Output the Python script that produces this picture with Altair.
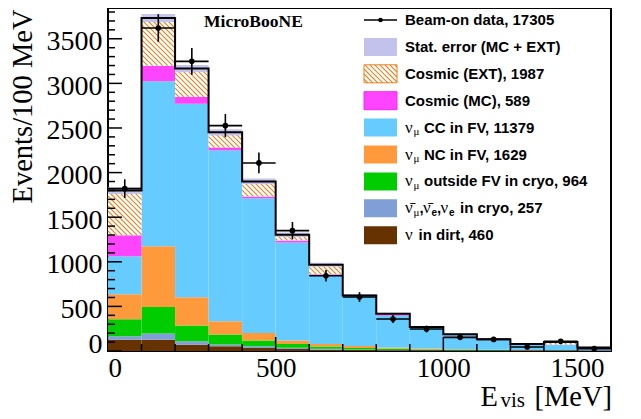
import altair as alt
import pandas as pd
import numpy as np

# ---------------- data ----------------
bin_lo = [0, 100, 200, 300, 400, 500, 600, 700, 800, 900, 1000, 1100, 1200, 1300, 1400]
bin_hi = [100, 200, 300, 400, 500, 600, 700, 800, 900, 1000, 1100, 1200, 1300, 1400, 1500]

nu_dirt  = [125, 125, 71, 52, 34, 22, 15, 10, 7, 5, 4, 3, 2, 2, 1]
nu_other = [40, 70, 38, 20, 18, 15, 10, 7, 5, 4, 3, 2, 2, 1, 1]
numu_out = [190, 298, 176, 112, 67, 41, 25, 18, 13, 9, 6, 5, 3, 3, 2]
numu_nc  = [280, 680, 317, 149, 83, 41, 28, 20, 13, 9, 6, 4, 3, 2, 2]
numu_cc  = [426, 1850, 2171, 1917, 1509, 1098, 770, 550, 358, 231, 160, 111, 60, 63, 19]
cosmic_mc  = [236, 175, 76, 30, 22, 23, 13, 7, 9, 4, 3, 2, 2, 2, 1]
cosmic_ext = [501, 535, 317, 172, 168, 64, 106, 11, 13, 7, 6, 5, 6, 27, 12]
stat_err = [38, 45, 40, 35, 32, 25, 22, 16, 12, 10, 9, 8, 6, 8, 5]

beam_on = [1820, 3621, 3247, 2526, 2108, 1349, 844, 605, 359, 247, 153, 130, 45, 108, 26]
beam_on_err = [105, 155, 150, 130, 116, 97, 65, 55, 45, 38, 30, 28, 18, 25, 15]

comp_names = ["dirt", "other", "outfv", "nc", "cc", "mc", "ext"]
comp_colors = ["#663300", "#7f9fd6", "#00cc00", "#ff9a3c", "#66ccff", "#ff44ff", "#ffffff"]

legend_labels = ["Beam-on data, 17305", "Stat. error (MC + EXT)", "Cosmic (EXT), 1987",
                 "Cosmic (MC), 589", "CC in FV, 11379", "NC in FV, 1629",
                 "outside FV in cryo, 964", "in cryo, 257", "in dirt, 460"]

y_major = [0, 500, 1000, 1500, 2000, 2500, 3000, 3500]
x_major = [0, 500, 1000, 1500]

# ---------------- layout constants ----------------
W, H = 503, 343
YMAX = 3845.0
SX = W / 1500.0
SY = H / YMAX
SERIF = "Liberation Serif"
SANS = "Liberation Sans"

xs = alt.Scale(domain=[0, 1500], nice=False, zero=False)
ys = alt.Scale(domain=[0, YMAX], nice=False, zero=True)

AX_X = alt.Axis(values=x_major, title=None, grid=False, ticks=False, tickSize=0, domain=False,
                format="d",
                labelFont=SERIF, labelFontSize=27, labelColor="black", labelPadding=4,
                labelBaseline="top",
                labelOffset={"condition": {"test": "datum.value === 1500", "value": -7}, "value": 0})
AX_Y = alt.Axis(values=y_major, title="Events/100 MeV", grid=False, ticks=False, tickSize=0,
                domain=False, format="d", labelFont=SERIF, labelFontSize=28, labelColor="black",
                labelPadding=6,
                labelOffset={"condition": {"test": "datum.value === 0", "value": -7}, "value": 3},
                titleFont=SERIF, titleFontSize=28.5, titleFontWeight="normal", titleColor="black",
                titleAngle=270, titleAlign="right", titleBaseline="middle", titleX=-86, titleY=1)

def X(f):
    return alt.X(f, scale=xs, axis=AX_X)

def Y(f):
    return alt.Y(f, scale=ys, axis=AX_Y)

# ---------------- stacked histogram ----------------
comps = [nu_dirt, nu_other, numu_out, numu_nc, numu_cc, cosmic_mc, cosmic_ext]
rows = []
base = np.zeros(len(bin_lo))
for ci, (nm, vals) in enumerate(zip(comp_names, comps)):
    v = np.array(vals, dtype=float)
    for i in range(len(bin_lo)):
        rows.append(dict(lo=bin_lo[i], hi=bin_hi[i], y0=base[i], y1=base[i] + v[i], comp=nm))
    base = base + v
stack_df = pd.DataFrame(rows)
totals = base.copy()

bars = alt.Chart(stack_df).mark_rect(strokeWidth=0).encode(
    x=X("lo:Q"), x2="hi:Q", y=Y("y0:Q"), y2="y1:Q",
    color=alt.Color("comp:N", scale=alt.Scale(domain=comp_names, range=comp_colors), legend=None),
)

# ---------------- hatch for cosmic EXT ----------------
D = 5.0
def hatch_data(rects):
    segs = []
    for x0, x1, v0, v1 in rects:
        a, b = x0 * SX, x1 * SX
        c0, c1 = v0 * SY, v1 * SY
        kmin = int(np.ceil((a + c0) / D))
        kmax = int(np.floor((b + c1) / D))
        for k in range(kmin, kmax + 1):
            c = k * D
            ps = max(a, c - c1)
            pe = min(b, c - c0)
            if pe - ps > 0.3:
                segs.append(dict(x=ps / SX, x2=pe / SX, y=(c - ps) / SY, y2=(c - pe) / SY))
    return pd.DataFrame(segs)

ext_rows = stack_df[stack_df.comp == "ext"]
hatch_df = hatch_data([(r.lo, r.hi, r.y0, r.y1) for r in ext_rows.itertuples()])
hatch = alt.Chart(hatch_df).mark_rule(color="#e8801e", strokeWidth=1.1).encode(
    x=X("x:Q"), x2="x2:Q", y=Y("y:Q"), y2="y2:Q")

# ---------------- stat error band ----------------
err_df = pd.DataFrame(dict(lo=bin_lo, hi=bin_hi,
                           lo_y=totals - np.array(stat_err), hi_y=totals + np.array(stat_err)))
band = alt.Chart(err_df).mark_rect(color="#c2c2ec", opacity=0.95).encode(
    x=X("lo:Q"), x2="hi:Q", y=Y("lo_y:Q"), y2="hi_y:Q")

# ---------------- total outline ----------------
out_df = pd.DataFrame(dict(x=bin_lo + [bin_hi[-1]], y=list(totals) + [totals[-1]]))
outline = alt.Chart(out_df).mark_line(color="black", strokeWidth=2, interpolate="step-after").encode(
    x=X("x:Q"), y=Y("y:Q"))

# ---------------- data points ----------------
dat_df = pd.DataFrame(dict(lo=bin_lo, hi=bin_hi,
                           c=[(a + b) / 2 for a, b in zip(bin_lo, bin_hi)],
                           v=beam_on,
                           vlo=[v - e for v, e in zip(beam_on, beam_on_err)],
                           vhi=[v + e for v, e in zip(beam_on, beam_on_err)]))
herr = alt.Chart(dat_df).mark_rule(color="black", strokeWidth=1.6).encode(
    x=X("lo:Q"), x2="hi:Q", y=Y("v:Q"))
verr = alt.Chart(dat_df).mark_rule(color="black", strokeWidth=1.6).encode(
    x=X("c:Q"), y=Y("vlo:Q"), y2="vhi:Q")
pts = alt.Chart(dat_df).mark_circle(color="black", opacity=1, size=32).encode(
    x=X("c:Q"), y=Y("v:Q"))

# ---------------- inward ticks ----------------
ytick_df = pd.DataFrame(dict(v=list(range(0, 3900, 100))))
ytick_df["lenpx"] = np.where(ytick_df.v % 500 == 0, 14, 7)
yticks = alt.Chart(ytick_df).mark_rule(color="black", strokeWidth=1.5).encode(
    y=Y("v:Q"), x=alt.X("zero:Q", scale=None), x2=alt.X2("lenpx:Q")).transform_calculate(zero="0")

xtick_df = pd.DataFrame(dict(v=list(range(100, 1500, 100))))
xtick_df["top"] = np.where(xtick_df.v % 500 == 0, H - 14, H - 7)
xticks = alt.Chart(xtick_df).mark_rule(color="black", strokeWidth=1.5).encode(
    x=X("v:Q"), y=alt.Y("top:Q", scale=None), y2=alt.Y2("bot:Q")).transform_calculate(bot=str(H))

# ---------------- legend ----------------
LX0, LX1 = 256, 289
TX = 297
RY0, RDY = 12.0, 26.9
row_y = [RY0 + i * RDY for i in range(9)]

one = pd.DataFrame({"a": [0]})

def px_rect(x0, x1, y0, y1, fill, stroke=None):
    df = pd.DataFrame(dict(x=[x0], x2=[x1], y=[y0], y2=[y1]))
    kw = dict(color=fill)
    if stroke:
        kw.update(stroke=stroke, strokeWidth=1)
    return alt.Chart(df).mark_rect(**kw).encode(
        x=alt.X("x:Q", scale=None), x2="x2:Q", y=alt.Y("y:Q", scale=None), y2="y2:Q")

leg_layers = []
leg_layers.append(alt.Chart(one).mark_rule(color="black", strokeWidth=1.6).encode(
    x=alt.value(LX0), x2=alt.value(LX1), y=alt.value(row_y[0])))
leg_layers.append(alt.Chart(one).mark_circle(color="black", opacity=1, size=22).encode(
    x=alt.value((LX0 + LX1) / 2), y=alt.value(row_y[0])))
leg_layers.append(px_rect(LX0, LX1, row_y[1] - 9, row_y[1] + 9, "#c2c2ec"))
ey0, ey1 = row_y[2] - 9, row_y[2] + 9
leg_layers.append(px_rect(LX0, LX1, ey0, ey1, "#ffffff", "#e8801e"))
segs = []
for k in range(int((LX0 - ey1) // D) - 1, int((LX1 - ey0) // D) + 2):
    c = k * D
    ps = max(LX0, c + ey0); pe = min(LX1, c + ey1)
    if pe - ps > 0.3:
        segs.append(dict(x=ps, x2=pe, y=ps - c, y2=pe - c))
leg_layers.append(alt.Chart(pd.DataFrame(segs)).mark_rule(color="#e8801e", strokeWidth=1.1).encode(
    x=alt.X("x:Q", scale=None), x2="x2:Q", y=alt.Y("y:Q", scale=None), y2="y2:Q"))
leg_layers.append(px_rect(LX0, LX1, row_y[3] - 9, row_y[3] + 9, "#ff44ff", "#ff22ff"))
for ri, cname in zip([4, 5, 6, 7, 8], ["cc", "nc", "outfv", "other", "dirt"]):
    leg_layers.append(px_rect(LX0, LX1, row_y[ri] - 9, row_y[ri] + 9,
                              comp_colors[comp_names.index(cname)]))

pieces = []
for i in range(4):
    pieces.append((TX, row_y[i], legend_labels[i], "bold"))
for i in (4, 5, 6):
    pieces.append((TX, row_y[i], "\u03bd", "nu"))
    pieces.append((TX + 8.5, row_y[i] + 4.5, "\u03bc", "sub"))
    pieces.append((TX + 19, row_y[i], legend_labels[i], "bold"))
i = 7
pieces += [(TX, row_y[i], "\u03bd\u0304", "nu"), (TX + 8.5, row_y[i] + 4.5, "\u03bc", "sub"),
           (TX + 14.5, row_y[i], ",", "bold"),
           (TX + 18, row_y[i], "\u03bd\u0304", "nu"), (TX + 26.5, row_y[i] + 4.5, "e", "subs"),
           (TX + 32, row_y[i], ",", "bold"),
           (TX + 35.5, row_y[i], "\u03bd", "nu"), (TX + 44, row_y[i] + 4.5, "e", "subs"),
           (TX + 55, row_y[i], legend_labels[i], "bold")]
i = 8
pieces += [(TX, row_y[i], "\u03bd", "nu"), (TX + 13.5, row_y[i], legend_labels[i], "bold")]
pdf = pd.DataFrame(pieces, columns=["x", "y", "t", "kind"])

styles = {"bold": dict(font=SANS, fontSize=15, fontWeight="bold"),
          "nu": dict(font=SERIF, fontSize=17, fontWeight="normal"),
          "sub": dict(font=SERIF, fontSize=11, fontWeight="normal"),
          "subs": dict(font=SANS, fontSize=10, fontWeight="bold")}
for kind, st in styles.items():
    leg_layers.append(alt.Chart(pdf[pdf.kind == kind]).mark_text(
        align="left", baseline="middle", color="black", **st).encode(
        x=alt.X("x:Q", scale=None), y=alt.Y("y:Q", scale=None), text="t:N"))

# ---------------- titles ----------------
micro = alt.Chart(one).mark_text(text="MicroBooNE", font=SERIF, fontSize=17.5, fontWeight="bold",
                                 align="left", baseline="middle", color="black").encode(
    x=alt.value(96), y=alt.value(13.5))
xt1 = alt.Chart(one).mark_text(text="[MeV]", font=SERIF, fontSize=28.5, align="right",
                               baseline="alphabetic", color="black").encode(
    x=alt.value(W + 1), y=alt.value(397.5))
xt2 = alt.Chart(one).mark_text(text="vis", font=SERIF, fontSize=21, align="right",
                               baseline="alphabetic", color="black").encode(
    x=alt.value(W - 86), y=alt.value(399))
xt3 = alt.Chart(one).mark_text(text="E", font=SERIF, fontSize=28.5, align="right",
                               baseline="alphabetic", color="black").encode(
    x=alt.value(W - 113), y=alt.value(397.5))

chart = alt.layer(bars, hatch, band, outline, herr, verr, pts, yticks, xticks,
                  *leg_layers, micro, xt1, xt2, xt3).properties(
    width=W, height=H,
    autosize=alt.AutoSizeParams(type="none"),
    padding={"left": 100, "top": 0, "right": 22, "bottom": 60},
    background="white",
).configure_view(stroke="black", strokeWidth=2)

chart.save("out.html", embed_options={"renderer": "svg", "actions": False})
